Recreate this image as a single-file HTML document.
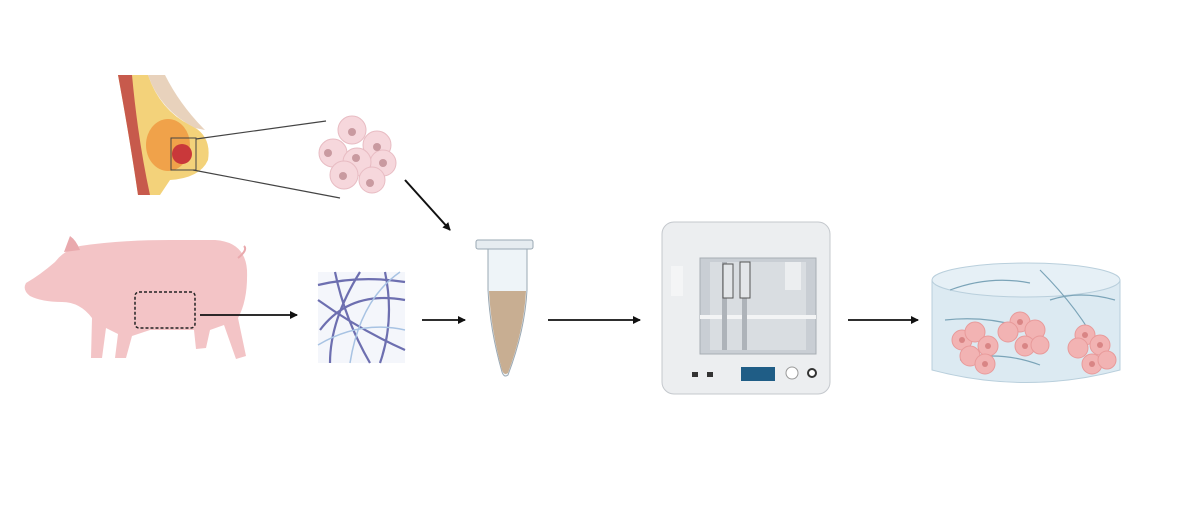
<!DOCTYPE html>
<html><head><meta charset="utf-8"><style>html,body{margin:0;padding:0;background:#fff}svg{display:block}</style></head>
<body>
<svg width="1200" height="528" viewBox="0 0 1200 528" xmlns="http://www.w3.org/2000/svg">
<defs>
<marker id="ah" markerWidth="8" markerHeight="8" refX="7" refY="4" orient="auto" markerUnits="userSpaceOnUse"><path d="M0,0 L8,4 L0,8 Z" fill="#111"/></marker>
</defs>
<rect width="1200" height="528" fill="#fff"/>
<!-- breast -->
<path d="M118,75 L148,75 Q160,110 190,125 Q212,135 208,160 Q200,178 170,180 L160,195 L138,195 Q130,140 118,75 Z" fill="#f3d27a"/>
<path d="M118,75 L132,75 Q138,140 150,195 L138,195 Q130,140 118,75 Z" fill="#c75a4c"/>
<path d="M148,75 L165,75 Q180,105 205,130 L195,128 Q160,110 148,75Z" fill="#e8d2bc"/>
<ellipse cx="168" cy="145" rx="22" ry="26" fill="#f0a24a"/>
<circle cx="182" cy="154" r="10" fill="#c9383a"/>
<rect x="171" y="138" width="25" height="32" fill="none" stroke="#444" stroke-width="1"/>
<line x1="196" y1="139" x2="326" y2="121" stroke="#444" stroke-width="1.2"/>
<line x1="193" y1="170" x2="340" y2="198" stroke="#444" stroke-width="1.2"/>
<!-- cells -->
<g fill="#f6d7dc" stroke="#e8bcc3">
<circle cx="352" cy="130" r="14"/><circle cx="377" cy="145" r="14"/><circle cx="333" cy="153" r="14"/>
<circle cx="383" cy="163" r="13"/><circle cx="357" cy="162" r="14"/><circle cx="344" cy="175" r="14"/><circle cx="372" cy="180" r="13"/>
</g>
<g fill="#c99aa0"><circle cx="352" cy="132" r="4"/><circle cx="377" cy="147" r="4"/><circle cx="328" cy="153" r="4"/><circle cx="356" cy="158" r="4"/><circle cx="383" cy="163" r="4"/><circle cx="343" cy="176" r="4"/><circle cx="370" cy="183" r="4"/></g>
<line x1="405" y1="180" x2="450" y2="230" stroke="#111" stroke-width="2" marker-end="url(#ah)"/>
<!-- pig -->
<path d="M26,283 Q40,275 55,262 Q64,250 80,246 Q120,240 170,240 L215,240 Q245,242 247,270 Q248,300 238,318 L246,356 L236,359 L224,325 L210,330 L206,348 L196,349 L194,330 L150,330 L132,336 L126,358 L115,358 L118,334 L106,328 L102,358 L91,358 L92,318 Q80,302 62,302 Q42,302 30,296 Q22,290 26,283 Z" fill="#f3c4c6"/>
<path d="M64,252 L70,236 Q76,240 80,250 Z" fill="#e9a9ad"/>
<path d="M238,258 Q248,250 244,246" fill="none" stroke="#e9a9ad" stroke-width="2"/>
<rect x="135" y="292" width="60" height="36" rx="4" fill="none" stroke="#222" stroke-width="1.5" stroke-dasharray="3,2"/>
<line x1="200" y1="315" x2="297" y2="315" stroke="#111" stroke-width="1.8" marker-end="url(#ah)"/>
<!-- fibers -->
<rect x="318" y="272" width="87" height="91" fill="#f4f6fb"/>
<g fill="none" stroke="#6d6fb0" stroke-width="2.2">
<path d="M318,285 Q360,275 405,282"/><path d="M320,330 Q350,290 405,300"/><path d="M335,272 Q345,320 370,363"/><path d="M318,300 Q360,330 405,350"/><path d="M360,272 Q330,320 330,363"/><path d="M385,272 Q395,320 380,363"/>
</g>
<g fill="none" stroke="#a8c3e3" stroke-width="1.5"><path d="M318,345 Q360,320 405,330"/><path d="M400,272 Q360,300 350,363"/></g>
<line x1="422" y1="320" x2="465" y2="320" stroke="#111" stroke-width="1.8" marker-end="url(#ah)"/>
<!-- tube -->
<rect x="476" y="240" width="57" height="9" rx="2" fill="#e6ecf0" stroke="#9aa8b3"/>
<path d="M488,249 L527,249 L527,290 Q525,330 508,375 Q504,378 502,372 Q490,330 488,290 Z" fill="#eef4f8" stroke="#9aa8b3"/>
<path d="M489,291 L526,291 Q524,330 508,373 Q504,376 502,370 Q491,330 489,291 Z" fill="#c8ae92"/>
<line x1="548" y1="320" x2="640" y2="320" stroke="#111" stroke-width="1.8" marker-end="url(#ah)"/>
<!-- printer -->
<rect x="662" y="222" width="168" height="172" rx="12" fill="#eceef0" stroke="#c4c8cd"/>
<rect x="700" y="258" width="116" height="96" fill="#c9ced4" stroke="#a8adb3"/>
<rect x="710" y="262" width="96" height="88" fill="#d9dde1"/>
<rect x="700" y="315" width="116" height="4" fill="#f3f4f5"/>
<rect x="722" y="262" width="5" height="88" fill="#aeb3b9"/><rect x="742" y="262" width="5" height="88" fill="#aeb3b9"/>
<rect x="723" y="264" width="10" height="34" fill="#e3e6e9" stroke="#555"/><rect x="740" y="262" width="10" height="36" fill="#e3e6e9" stroke="#555"/>
<rect x="671" y="266" width="12" height="30" fill="#f4f5f6"/>
<rect x="785" y="262" width="16" height="28" fill="#eceef0"/>
<rect x="692" y="372" width="6" height="5" fill="#333"/><rect x="707" y="372" width="6" height="5" fill="#333"/>
<rect x="741" y="367" width="34" height="14" fill="#1f5d86"/>
<circle cx="792" cy="373" r="6" fill="#fff" stroke="#999"/><circle cx="812" cy="373" r="4" fill="#fff" stroke="#333" stroke-width="2"/>
<line x1="848" y1="320" x2="918" y2="320" stroke="#111" stroke-width="1.8" marker-end="url(#ah)"/>
<!-- dish -->
<path d="M932,280 L932,370 Q1026,395 1120,370 L1120,280 Z" fill="#dceaf2" stroke="#b9cfdc"/>
<ellipse cx="1026" cy="280" rx="94" ry="17" fill="#e6f0f6" stroke="#b9cfdc"/>
<g fill="none" stroke="#7ba4b8" stroke-width="1.2"><path d="M950,290 Q990,275 1030,283"/><path d="M1040,270 Q1080,310 1100,350"/><path d="M945,320 Q990,315 1030,330"/><path d="M1050,300 Q1080,290 1115,300"/><path d="M960,360 Q1000,350 1040,365"/></g>
<g fill="#f2b3b3" stroke="#e89a9a">
<circle cx="962" cy="340" r="10"/><circle cx="975" cy="332" r="10"/><circle cx="988" cy="346" r="10"/><circle cx="970" cy="356" r="10"/><circle cx="985" cy="364" r="10"/>
<circle cx="1020" cy="322" r="10"/><circle cx="1035" cy="330" r="10"/><circle cx="1008" cy="332" r="10"/><circle cx="1025" cy="346" r="10"/><circle cx="1040" cy="345" r="9"/>
<circle cx="1085" cy="335" r="10"/><circle cx="1100" cy="345" r="10"/><circle cx="1078" cy="348" r="10"/><circle cx="1092" cy="364" r="10"/><circle cx="1107" cy="360" r="9"/>
</g>
<g fill="#d98585"><circle cx="962" cy="340" r="3"/><circle cx="988" cy="346" r="3"/><circle cx="985" cy="364" r="3"/><circle cx="1020" cy="322" r="3"/><circle cx="1025" cy="346" r="3"/><circle cx="1085" cy="335" r="3"/><circle cx="1100" cy="345" r="3"/><circle cx="1092" cy="364" r="3"/></g>
</svg>
</body></html>
